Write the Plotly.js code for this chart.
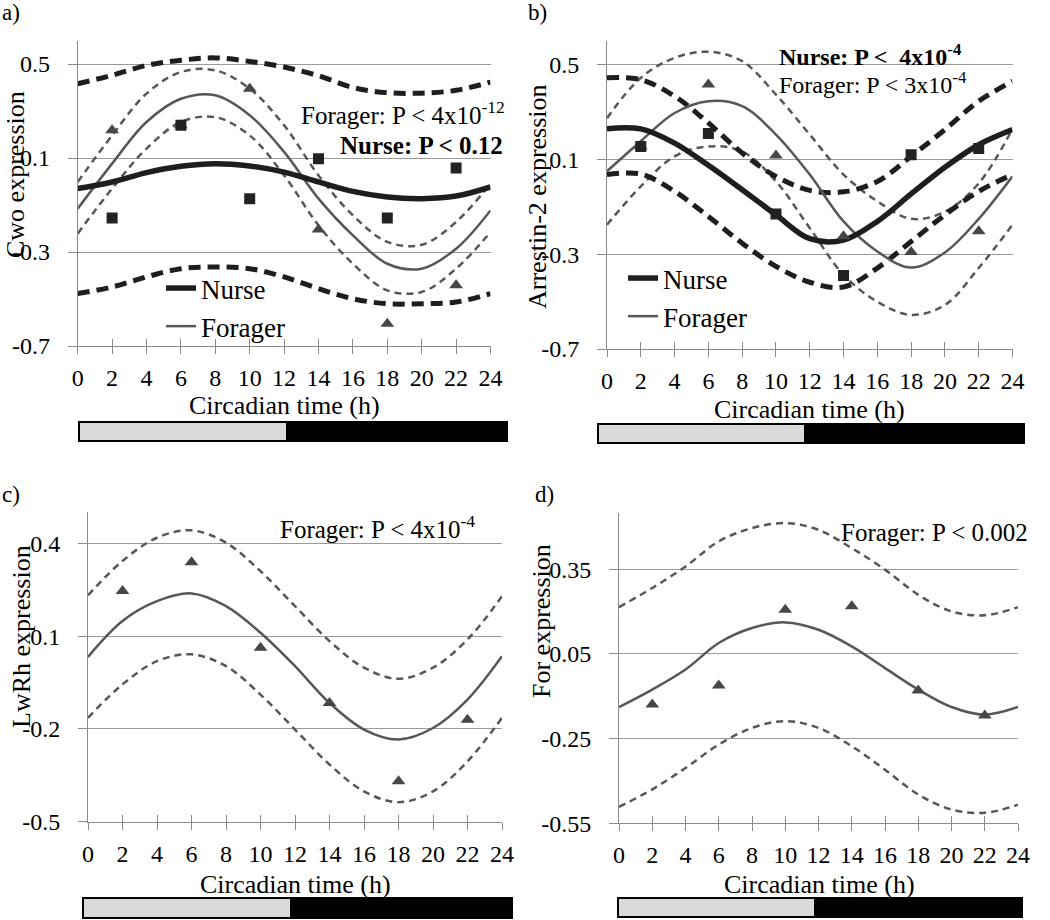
<!DOCTYPE html>
<html>
<head>
<meta charset="utf-8">
<script src="https://cdn.plot.ly/plotly-3.0.1.min.js"></script>
<style>html,body{margin:0;padding:0;background:#fff;}#chart{width:1050px;height:920px;}</style>
</head>
<body>
<div id="chart"></div>
<script>
// ---------- data ----------
const fitHours = [0, 2, 4, 6, 8, 10, 12, 14, 16, 18, 20, 22, 24];
const sampleHours = [2, 6, 10, 14, 18, 22];
const xTickVals = [0, 2, 4, 6, 8, 10, 12, 14, 16, 18, 20, 22, 24];

// a) Cwo
const cwoNurseObs = [-0.155, 0.239, -0.073, 0.097, -0.155, 0.057];
const cwoForagerObs = [0.218, 0.239, 0.395, -0.204, -0.605, -0.442];
const cwoNurseFit = [-0.030, -0.002, 0.038, 0.065, 0.076, 0.066, 0.040, -0.002, -0.042, -0.066, -0.073, -0.062, -0.023];
const cwoNurseUpper = [0.416, 0.452, 0.494, 0.516, 0.526, 0.511, 0.487, 0.450, 0.400, 0.378, 0.376, 0.388, 0.423];
const cwoNurseLower = [-0.477, -0.449, -0.406, -0.371, -0.364, -0.371, -0.406, -0.456, -0.499, -0.520, -0.520, -0.513, -0.477];
const cwoForagerFit = [-0.116, 0.076, 0.253, 0.352, 0.367, 0.282, 0.126, -0.073, -0.229, -0.350, -0.371, -0.286, -0.123];
const cwoForagerUpper = [-0.002, 0.196, 0.374, 0.466, 0.473, 0.395, 0.239, 0.026, -0.144, -0.257, -0.269, -0.172, -0.009];
const cwoForagerLower = [-0.222, -0.030, 0.140, 0.253, 0.274, 0.196, 0.026, -0.187, -0.350, -0.463, -0.470, -0.371, -0.215];
const cwoTickVals = [-0.7, -0.3, 0.1, 0.5];
const cwoTickText = ['-0.7', '-0.3', '0.1', '0.5'];

// b) Arrestin-2
const arrNurseObs = [0.156, 0.210, -0.130, -0.389, 0.121, 0.147];
const arrForagerObs = [0.156, 0.417, 0.118, -0.224, -0.290, -0.203];
const arrNurseFit = [0.231, 0.230, 0.170, 0.076, -0.027, -0.133, -0.234, -0.240, -0.161, -0.045, 0.068, 0.163, 0.227];
const arrNurseUpper = [0.446, 0.438, 0.368, 0.255, 0.128, 0.029, -0.030, -0.036, 0.008, 0.114, 0.227, 0.347, 0.431];
const arrNurseLower = [0.037, 0.039, -0.034, -0.140, -0.253, -0.351, -0.418, -0.438, -0.358, -0.246, -0.133, -0.034, 0.037];
const arrForagerFit = [0.051, 0.178, 0.297, 0.347, 0.326, 0.206, 0.037, -0.161, -0.288, -0.356, -0.292, -0.150, 0.030];
const arrForagerUpper = [0.275, 0.446, 0.530, 0.556, 0.516, 0.375, 0.206, 0.037, -0.076, -0.150, -0.120, 0.000, 0.230];
const arrForagerLower = [-0.175, -0.013, 0.114, 0.156, 0.135, 0.008, -0.189, -0.387, -0.500, -0.556, -0.514, -0.358, -0.175];
const arrTickVals = [-0.7, -0.3, 0.1, 0.5];
const arrTickText = ['-0.7', '-0.3', '0.1', '0.5'];

// c) LwRh
const lwForagerObs = [0.246, 0.339, 0.062, -0.116, -0.369, -0.170];
const lwForagerFit = [0.033, 0.149, 0.213, 0.238, 0.197, 0.111, 0.003, -0.116, -0.202, -0.234, -0.197, -0.105, 0.035];
const lwForagerUpper = [0.232, 0.343, 0.418, 0.442, 0.402, 0.310, 0.197, 0.084, -0.002, -0.038, -0.002, 0.089, 0.229];
const lwForagerLower = [-0.164, -0.056, 0.019, 0.041, 0.003, -0.089, -0.202, -0.315, -0.402, -0.437, -0.402, -0.305, -0.164];
const lwTickVals = [-0.5, -0.2, 0.1, 0.4];
const lwTickText = ['-0.5', '-0.2', '0.1', '0.4'];

// d) For
const forForagerObs = [-0.129, -0.062, 0.207, 0.219, -0.079, -0.168];
const forForagerFit = [-0.138, -0.076, -0.005, 0.089, 0.142, 0.162, 0.136, 0.077, 0.000, -0.076, -0.138, -0.165, -0.138];
const forForagerUpper = [0.216, 0.284, 0.360, 0.449, 0.496, 0.514, 0.490, 0.425, 0.349, 0.260, 0.201, 0.187, 0.216];
const forForagerLower = [-0.492, -0.430, -0.354, -0.271, -0.212, -0.188, -0.212, -0.277, -0.360, -0.448, -0.501, -0.513, -0.484];
const forTickVals = [-0.55, -0.25, 0.05, 0.35];
const forTickText = ['-0.55', '-0.25', '0.05', '0.35'];

// ---------- styles ----------
const FONT = '"Liberation Serif", "Times New Roman", Times, serif';
const NURSE_COL = '#1e1e1e';
const FORAGER_COL = '#575757';
const GRID_COL = '#9a9a9a';
const AXIS_COL = '#8a8a8a';

function line(xa, ya, y, color, width, dash, extra) {
  return Object.assign({
    type: 'scatter', mode: 'lines', x: fitHours, y: y, xaxis: xa, yaxis: ya,
    line: {color: color, width: width, dash: dash, shape: 'spline', smoothing: 1},
    hoverinfo: 'skip', showlegend: false
  }, extra || {});
}
function pts(xa, ya, y, symbol, color, size) {
  return {
    type: 'scatter', mode: 'markers', x: sampleHours, y: y, xaxis: xa, yaxis: ya,
    marker: {symbol: symbol, color: color, size: size, line: {width: 0}},
    hoverinfo: 'skip', showlegend: false
  };
}
function dummy(xa, ya) {
  return {type: 'scatter', mode: 'markers', x: [null], y: [null], xaxis: xa, yaxis: ya, showlegend: false, hoverinfo: 'skip'};
}
const NURSE_CI_DASH = '12px,7px';
const FOR_CI_DASH = '7px,5px';

const traces = [
  // panel a
  line('x', 'y', cwoNurseUpper, NURSE_COL, 5, NURSE_CI_DASH),
  line('x', 'y', cwoNurseLower, NURSE_COL, 5, NURSE_CI_DASH),
  line('x', 'y', cwoForagerUpper, FORAGER_COL, 2.5, FOR_CI_DASH),
  line('x', 'y', cwoForagerLower, FORAGER_COL, 2.5, FOR_CI_DASH),
  line('x', 'y', cwoForagerFit, FORAGER_COL, 2.5, 'solid', {name: 'Forager', showlegend: true, legend: 'legend', legendrank: 2, legendgroup: 'af'}),
  line('x', 'y', cwoNurseFit, NURSE_COL, 5.5, 'solid', {name: 'Nurse', showlegend: true, legend: 'legend', legendrank: 1, legendgroup: 'an'}),
  pts('x', 'y', cwoForagerObs, 'triangle-up', '#474747', 12),
  pts('x', 'y', cwoNurseObs, 'square', '#222222', 11),
  // panel b
  line('x2', 'y2', arrForagerUpper, FORAGER_COL, 2.5, FOR_CI_DASH),
  line('x2', 'y2', arrForagerLower, FORAGER_COL, 2.5, FOR_CI_DASH),
  line('x2', 'y2', arrNurseUpper, NURSE_COL, 5, NURSE_CI_DASH),
  line('x2', 'y2', arrNurseLower, NURSE_COL, 5, NURSE_CI_DASH),
  line('x2', 'y2', arrForagerFit, FORAGER_COL, 2.5, 'solid', {name: 'Forager', showlegend: true, legend: 'legend2', legendrank: 2, legendgroup: 'bf'}),
  line('x2', 'y2', arrNurseFit, NURSE_COL, 5.5, 'solid', {name: 'Nurse', showlegend: true, legend: 'legend2', legendrank: 1, legendgroup: 'bn'}),
  pts('x2', 'y2', arrForagerObs, 'triangle-up', '#474747', 12),
  pts('x2', 'y2', arrNurseObs, 'square', '#222222', 11),
  // panel c
  line('x3', 'y3', lwForagerUpper, FORAGER_COL, 2.5, FOR_CI_DASH),
  line('x3', 'y3', lwForagerLower, FORAGER_COL, 2.5, FOR_CI_DASH),
  line('x3', 'y3', lwForagerFit, FORAGER_COL, 2.5, 'solid'),
  pts('x3', 'y3', lwForagerObs, 'triangle-up', '#474747', 12),
  // panel d
  line('x4', 'y4', forForagerUpper, FORAGER_COL, 2.5, FOR_CI_DASH),
  line('x4', 'y4', forForagerLower, FORAGER_COL, 2.5, FOR_CI_DASH),
  line('x4', 'y4', forForagerFit, FORAGER_COL, 2.5, 'solid'),
  pts('x4', 'y4', forForagerObs, 'triangle-up', '#474747', 12),
  // overlay axes for crossing ticks
  dummy('x5', 'y'), dummy('x6', 'y2'), dummy('x7', 'y3'), dummy('x8', 'y4')
];

function xAxis(domain, anchor) {
  return {
    domain: domain, anchor: anchor, range: [0, 24], tickvals: xTickVals,
    ticks: 'outside', ticklen: 7, tickwidth: 1, tickcolor: AXIS_COL,
    showline: true, linecolor: AXIS_COL, linewidth: 1,
    showgrid: false, zeroline: false, fixedrange: true,
    tickfont: {family: FONT, size: 24, color: '#000'}, ticklabelstandoff: 3
  };
}
function xOver(over, anchor) {
  return {
    overlaying: over, anchor: anchor, range: [0, 24], tickvals: xTickVals,
    ticks: 'inside', ticklen: 7, tickwidth: 1, tickcolor: AXIS_COL,
    showticklabels: false, showline: false, showgrid: false, zeroline: false
  };
}
function yAxis(domain, anchor, range, vals, text) {
  return {
    domain: domain, anchor: anchor, range: range, tickvals: vals, ticktext: text,
    ticks: 'outside', ticklen: 9, tickwidth: 1, tickcolor: AXIS_COL,
    showline: true, linecolor: AXIS_COL, linewidth: 1,
    showgrid: true, gridcolor: GRID_COL, gridwidth: 1, zeroline: false, fixedrange: true,
    tickfont: {family: FONT, size: 24, color: '#000'}, ticklabelstandoff: 13
  };
}

function txt(text, x, y, opts) {
  return Object.assign({
    text: text, x: x, y: y, xref: 'paper', yref: 'paper', showarrow: false,
    xanchor: 'center', yanchor: 'middle',
    font: {family: FONT, size: 26, color: '#000'}
  }, opts || {});
}
const W = 1050, Hh = 920;
const px = v => v / W, py = v => 1 - v / Hh;
const f = s => ({family: FONT, size: s, color: '#000'});

const annotations = [
  txt('a)', px(0), py(12), {xanchor: 'left', font: f(23)}),
  txt('b)', px(526), py(12), {xanchor: 'left', font: f(23)}),
  txt('c)', px(0), py(495), {xanchor: 'left', font: f(23)}),
  txt('d)', px(533), py(495), {xanchor: 'left', font: f(23)}),
  // y titles
  txt('Cwo expression', px(15), py(175), {textangle: -90}),
  txt('Arrestin-2 expression', px(537), py(197), {textangle: -90}),
  txt('LwRh expression', px(21), py(637), {textangle: -90}),
  txt('For expression', px(541), py(621), {textangle: -90}),
  // x titles
  txt('Circadian time (h)', px(284), py(405), {font: f(26), borderpad: 0}),
  txt('Circadian time (h)', px(809), py(409), {font: f(26), borderpad: 0}),
  txt('Circadian time (h)', px(295), py(884), {font: f(26), borderpad: 0}),
  txt('Circadian time (h)', px(819), py(884), {font: f(26), borderpad: 0}),
  // statistics
  txt('Forager: P &lt; 4x10<sup>-12</sup>', px(507), py(113), {xanchor: 'right', font: f(25)}),
  txt('<b>Nurse: P &lt; 0.12</b>', px(505), py(146), {xanchor: 'right', font: f(25)}),
  txt('<b>Nurse: P &lt;&nbsp; 4x10<sup>-4</sup></b>', px(777), py(55), {xanchor: 'left', font: f(24)}),
  txt('Forager: P &lt; 3x10<sup>-4</sup>', px(777), py(83), {xanchor: 'left', font: f(24)}),
  txt('Forager: P &lt; 4x10<sup>-4</sup>', px(477), py(527), {xanchor: 'right', font: f(25)}),
  txt('Forager: P &lt; 0.002', px(1030), py(532), {xanchor: 'right', font: f(25)})
];

// light/dark bars (decoration under each panel)
function bar(x0, xm, x1, y0, y1) {
  return [
    {type: 'rect', xref: 'paper', yref: 'paper', x0: px(x0), x1: px(xm), y0: py(y1), y1: py(y0),
     fillcolor: '#d9d9d9', line: {color: '#000', width: 2}},
    {type: 'rect', xref: 'paper', yref: 'paper', x0: px(xm), x1: px(x1), y0: py(y1), y1: py(y0),
     fillcolor: '#000', line: {color: '#000', width: 2}}
  ];
}
const shapes = [].concat(
  bar(79, 287, 507, 422, 441),
  bar(598, 805, 1024, 424, 443),
  bar(83, 291, 512, 898, 918),
  bar(618, 815, 1022, 898, 917)
);

const legendCommon = {
  bgcolor: 'rgba(0,0,0,0)', borderwidth: 0, xanchor: 'left', yanchor: 'top',
  font: {family: FONT, size: 27, color: '#000'}, tracegroupgap: 14, itemwidth: 30,
  traceorder: 'normal'
};

const layout = {
  width: W, height: Hh, margin: {l: 0, r: 0, t: 0, b: 0},
  paper_bgcolor: '#fff', plot_bgcolor: '#fff',
  font: {family: FONT, color: '#000'},
  showlegend: true,
  legend: Object.assign({x: px(161), y: py(264)}, legendCommon),
  legend2: Object.assign({x: px(623), y: py(254)}, legendCommon),
  xaxis: xAxis([px(77.7), px(490.5)], 'y'),
  yaxis: yAxis([py(346), py(40.5)], 'x', [-0.7, 0.6], cwoTickVals, cwoTickText),
  xaxis2: xAxis([px(607), px(1012.5)], 'y2'),
  yaxis2: yAxis([py(349), py(41.3)], 'x2', [-0.7, 0.6], arrTickVals, arrTickText),
  xaxis3: xAxis([px(88), px(502)], 'y3'),
  yaxis3: yAxis([py(821.7), py(512.4)], 'x3', [-0.5, 0.5], lwTickVals, lwTickText),
  xaxis4: xAxis([px(619), px(1018)], 'y4'),
  yaxis4: yAxis([py(823.3), py(512.9)], 'x4', [-0.55, 0.55], forTickVals, forTickText),
  xaxis5: xOver('x', 'y'),
  xaxis6: xOver('x2', 'y2'),
  xaxis7: xOver('x3', 'y3'),
  xaxis8: xOver('x4', 'y4'),
  annotations: annotations,
  shapes: shapes
};

Plotly.newPlot('chart', traces, layout, {staticPlot: true, displayModeBar: false});
</script>
</body>
</html>
